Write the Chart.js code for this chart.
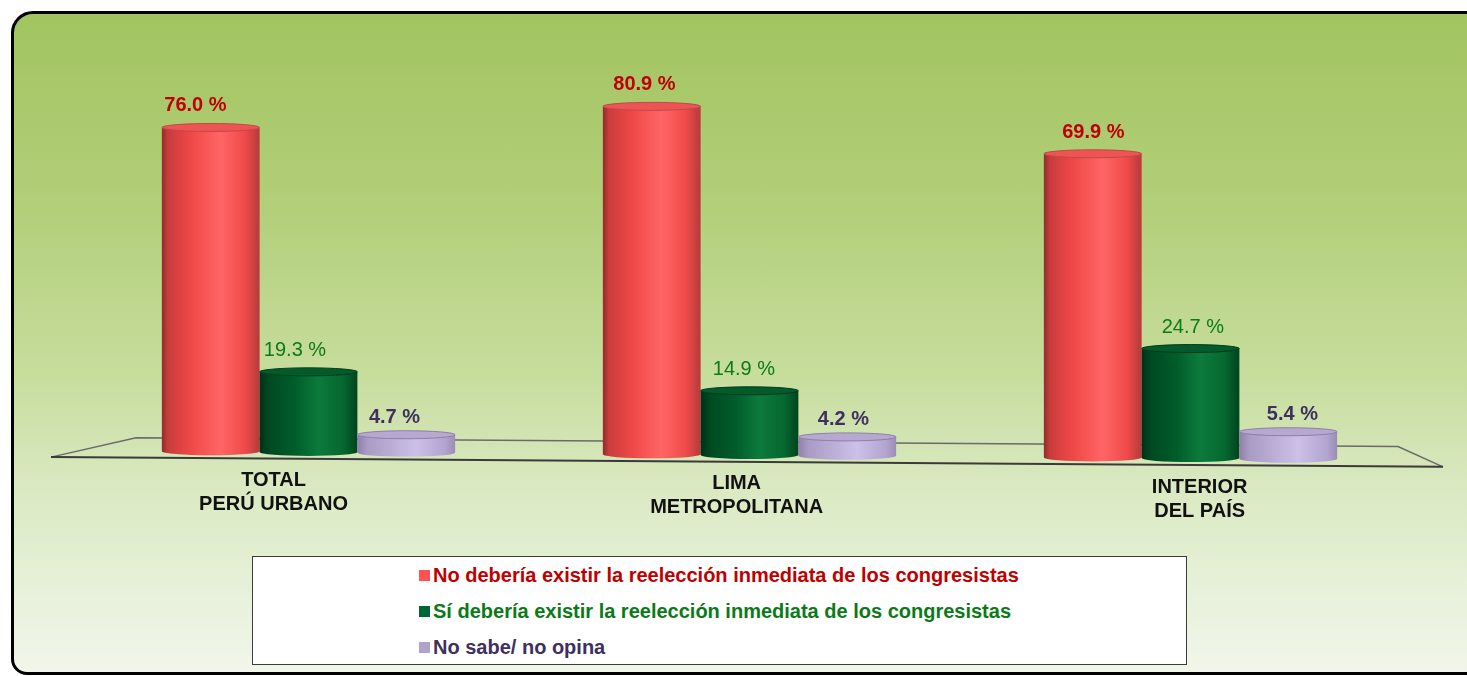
<!DOCTYPE html>
<html>
<head>
<meta charset="utf-8">
<script src="https://cdn.jsdelivr.net/npm/chart.js@4.4.1/dist/chart.umd.min.js"></script>
<style>
  html, body { margin: 0; padding: 0; background: #fff; overflow: hidden; }
  body { width: 1467px; height: 676px; position: relative; font-family: 'Liberation Sans', Arial, sans-serif; }
  #frame {
    position: absolute; left: 11px; top: 11px; width: 1500px; height: 658px;
    border: 3px solid #000; border-radius: 22px 0 0 16px;
    background: linear-gradient(180deg, #a2c460 0%, #b3cf7a 30%, #c7dd9d 55%, #dae9c2 72%, #ebf3e0 92%, #f1f6ea 100%);
  }
  #chart { position: absolute; left: 0; top: 0; }
  #legend {
    position: absolute; left: 252px; top: 556px; width: 933px; height: 107px;
    background: #fff; border: 1.5px solid #3c3c3c; box-sizing: content-box;
  }
  #legend .row { height: 36px; display: flex; align-items: center; padding-left: 166px;
    font-weight: bold; font-size: 20px; white-space: nowrap; }
  #legend .sq { width: 11px; height: 11px; margin-right: 3px; flex: none; }
</style>
</head>
<body>
<div id="frame"></div>
<canvas id="chart" width="1467" height="676"></canvas>
<div id="legend"></div>
<script>
// categories and series
const categories = [['TOTAL', 'PERÚ URBANO'], ['LIMA', 'METROPOLITANA'], ['INTERIOR', 'DEL PAÍS']];
const seriesNames = [
  'No debería existir la reelección inmediata de los congresistas',
  'Sí debería existir la reelección inmediata de los congresistas',
  'No sabe/ no opina'
];
const noDeberia = [76.0, 80.9, 69.9];
const siDeberia = [19.3, 14.9, 24.7];
const noSabe = [4.7, 4.2, 5.4];

// colours: legend square, label text, cylinder gradient, top cap
const styles = [
  { box: '#ff5252', text: '#c00000', bold: true, gap: 12,
    grad: [[0, '#8e2c2c'], [0.06, '#c93c3c'], [0.3, '#f04848'], [0.6, '#ff6565'], [0.85, '#f04a4a'], [1, '#b53a3a']],
    cap: '#ef5454', capLine: '#c04848' },
  { box: '#006633', text: '#0b7a18', bold: false, gap: 12,
    grad: [[0, '#00301a'], [0.1, '#004a22'], [0.35, '#005c2a'], [0.6, '#0c7a3c'], [0.85, '#066830'], [1, '#00441e']],
    cap: '#035a2a', capLine: '#003d1c' },
  { box: '#b3a3cc', text: '#3d3060', bold: true, gap: 8,
    grad: [[0, '#8e80a8'], [0.1, '#a99bc4'], [0.6, '#ccbfe8'], [0.9, '#b2a4ce'], [1, '#9a8cb4']],
    cap: '#b6a8d0', capLine: '#8d7fa7' }
];

const FONT = "'Liberation Sans', Arial, sans-serif";
const TILT = 0.007;   // the floor is slightly tilted downwards to the right
const RY = 4;         // half height of the cylinder ellipses

function tiltAt(chart, x) {
  const a = chart.chartArea;
  return (x - (a.left + a.right) / 2) * TILT;
}

function drawFloor(chart) {
  const ctx = chart.ctx, a = chart.chartArea;
  const y0 = chart.scales.y.getPixelForValue(0);
  const yAt = (x, off) => y0 + off + tiltAt(chart, x);
  const bl = a.left + 48, br = a.right - 13, fl = a.left - 37, fr = a.right + 32;
  ctx.save();
  ctx.strokeStyle = '#6a6a6a';
  ctx.lineWidth = 1.5;
  ctx.beginPath();
  ctx.moveTo(fl, yAt(fl, 7));
  ctx.lineTo(bl, yAt(bl, -13));
  ctx.lineTo(br, yAt(br, -13));
  ctx.lineTo(fr, yAt(fr, 7));
  ctx.stroke();
  ctx.strokeStyle = '#3a3a3a';
  ctx.lineWidth = 2;
  ctx.beginPath();
  ctx.moveTo(fl, yAt(fl, 7));
  ctx.lineTo(fr, yAt(fr, 7));
  ctx.stroke();
  ctx.restore();
}

function drawCylinder(ctx, left, right, top, base, st) {
  const cx = (left + right) / 2, rx = (right - left) / 2;
  const g = ctx.createLinearGradient(left, 0, right, 0);
  st.grad.forEach(s => g.addColorStop(s[0], s[1]));
  ctx.beginPath();
  ctx.moveTo(left, top);
  ctx.lineTo(left, base);
  ctx.ellipse(cx, base, rx, RY, 0, Math.PI, 0, true);
  ctx.lineTo(right, top);
  ctx.closePath();
  ctx.fillStyle = g;
  ctx.fill();
  ctx.beginPath();
  ctx.ellipse(cx, top, rx, RY, 0, 0, Math.PI * 2);
  ctx.fillStyle = st.cap;
  ctx.fill();
  ctx.strokeStyle = st.capLine;
  ctx.lineWidth = 1;
  ctx.stroke();
}

const cylinderPlugin = {
  id: 'cylinders',
  beforeDatasetsDraw(chart) { drawFloor(chart); },
  beforeDatasetDraw() { return false; },
  afterDatasetsDraw(chart) {
    const ctx = chart.ctx, a = chart.chartArea;
    const labelFix = a.left + (a.right - a.left) * 0.735;
    ctx.save();
    for (let i = 0; i < categories.length; i++) {
      chart.data.datasets.forEach((ds, d) => {
        const el = chart.getDatasetMeta(d).data[i];
        const st = styles[d];
        const dy = tiltAt(chart, el.x);
        const left = el.x - el.width / 2, right = el.x + el.width / 2;
        drawCylinder(ctx, left, right, el.y, el.base + dy, st);
        ctx.font = (st.bold ? 'bold ' : '') + '20px ' + FONT;
        ctx.fillStyle = st.text;
        ctx.textAlign = 'center';
        ctx.textBaseline = 'alphabetic';
        const lx = el.x + (el.x - labelFix) * 0.018;
        ctx.fillText(ds.data[i].toFixed(1) + ' %', lx, el.y - RY - st.gap);
      });
    }
    // category labels along the front edge of the floor
    const x = chart.scales.x, y0 = chart.scales.y.getPixelForValue(0);
    const fix = a.left + (a.right - a.left) * 0.695;
    ctx.font = 'bold 20px ' + FONT;
    ctx.fillStyle = '#111';
    ctx.textAlign = 'center';
    ctx.textBaseline = 'middle';
    categories.forEach((lines, i) => {
      const cx = x.getPixelForValue(i);
      const lx = fix + (cx - fix) * 1.05;
      const fy = y0 + 7 + tiltAt(chart, lx);
      lines.forEach((t, k) => ctx.fillText(t, lx, fy + 22 + k * 24));
    });
    ctx.restore();
  }
};

new Chart(document.getElementById('chart'), {
  type: 'bar',
  data: {
    labels: categories,
    datasets: [
      { label: seriesNames[0], data: noDeberia, backgroundColor: styles[0].box },
      { label: seriesNames[1], data: siDeberia, backgroundColor: styles[1].box },
      { label: seriesNames[2], data: noSabe, backgroundColor: styles[2].box }
    ]
  },
  options: {
    responsive: false,
    animation: false,
    layout: { padding: { left: 88, right: 56, top: 65, bottom: 221 } },
    datasets: { bar: { barPercentage: 1.0, categoryPercentage: 0.665 } },
    plugins: { legend: { display: false }, tooltip: { enabled: false } },
    scales: {
      x: { display: false },
      y: { display: false, min: 0, max: 90.5 }
    }
  },
  plugins: [cylinderPlugin]
});

// legend box below the chart
const legendBox = document.getElementById('legend');
seriesNames.forEach((name, i) => {
  const row = document.createElement('div');
  row.className = 'row';
  row.style.color = styles[i].text;
  row.innerHTML = `<span class="sq" style="background:${styles[i].box}"></span>${name}`;
  legendBox.appendChild(row);
});
</script>
</body>
</html>
